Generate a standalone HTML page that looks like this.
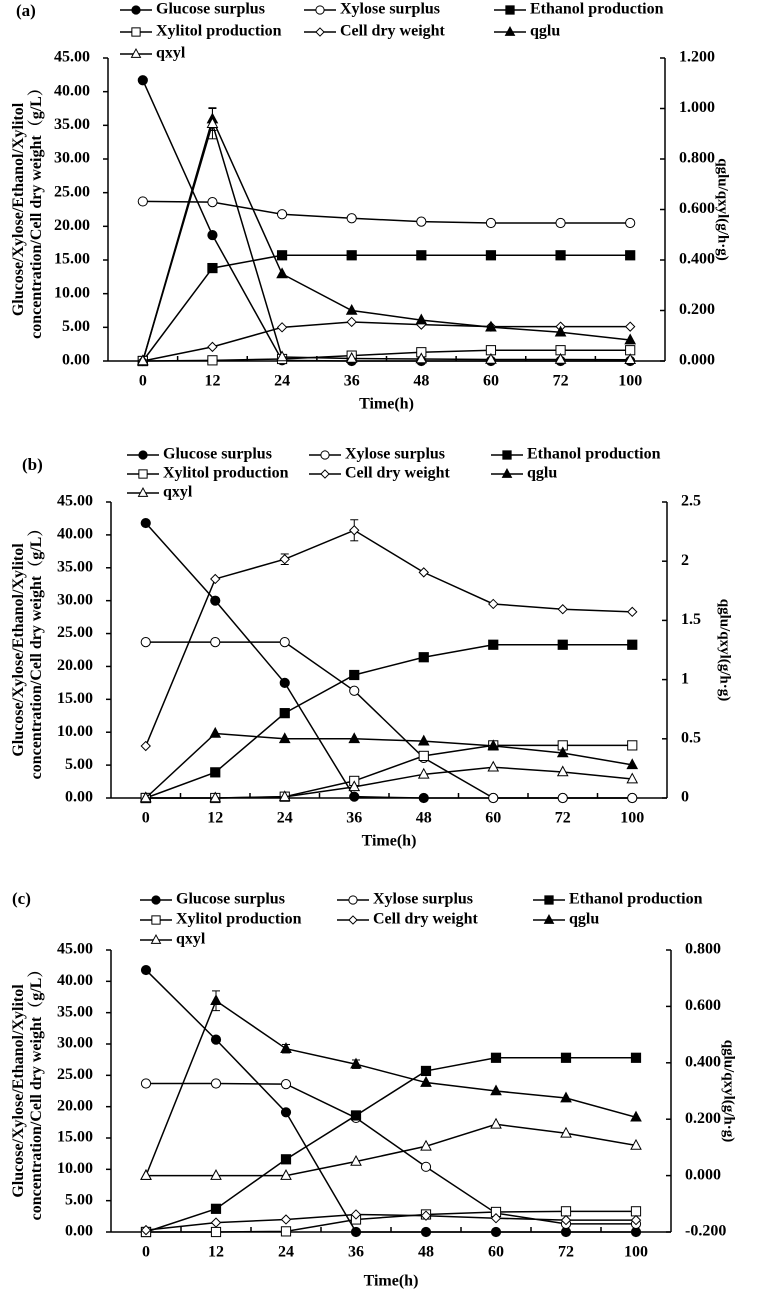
<!DOCTYPE html>
<html><head><meta charset="utf-8"><style>
html,body{margin:0;padding:0;background:#fff;}
svg{display:block;font-family:"Liberation Serif","Noto Serif CJK SC",serif;font-weight:bold;}
</style></head><body>
<svg id="fig" width="760" height="1296" viewBox="0 0 760 1296" xmlns="http://www.w3.org/2000/svg"></svg>
<script>
const categories = ["0","12","24","36","48","60","72","100"];
// Panel (a)
const aGlucose = [41.7,18.7,0.1,0,0,0,0,0];
const aXylose = [23.7,23.6,21.8,21.2,20.7,20.5,20.5,20.5];
const aEthanol = [0,13.8,15.7,15.7,15.7,15.7,15.7,15.7];
const aXylitol = [0,0.1,0.3,0.8,1.3,1.6,1.6,1.6];
const aCdw = [0,2.1,5.0,5.8,5.4,5.1,5.1,5.1];
const aQglu = [0,0.958,0.345,0.2,0.162,0.134,0.114,0.083];
const aQxyl = [0,0.94,0.016,0.01,0.008,0.006,0.006,0.005];
const aLeftTicks = ["0.00","5.00","10.00","15.00","20.00","25.00","30.00","35.00","40.00","45.00"];
const aRightTicks = ["0.000","0.200","0.400","0.600","0.800","1.000","1.200"];
// Panel (b)
const bGlucose = [41.8,30.0,17.5,0.2,0,0,0,0];
const bXylose = [23.7,23.7,23.7,16.3,6.1,0,0,0];
const bEthanol = [0,3.9,12.9,18.7,21.4,23.3,23.3,23.3];
const bXylitol = [0,0,0.2,2.6,6.4,8.0,8.0,8.0];
const bCdw = [7.9,33.3,36.3,40.7,34.3,29.5,28.7,28.3];
const bQglu = [0,0.545,0.5,0.5,0.48,0.44,0.38,0.28];
const bQxyl = [0,0,0.01,0.094,0.2,0.26,0.22,0.16];
const bLeftTicks = aLeftTicks;
const bRightTicks = ["0","0.5","1","1.5","2","2.5"];
// Panel (c)
const cGlucose = [41.8,30.7,19.1,0,0,0,0,0];
const cXylose = [23.7,23.7,23.6,18.2,10.4,3.0,1.3,1.3];
const cEthanol = [0,3.7,11.6,18.6,25.7,27.8,27.8,27.8];
const cXylitol = [0,0,0.1,2.0,2.8,3.2,3.3,3.3];
const cCdw = [0.3,1.5,2.0,2.8,2.6,2.2,1.9,1.9];
const cQglu = [0,0.62,0.45,0.395,0.33,0.30,0.275,0.207];
const cQxyl = [0,0,0,0.05,0.104,0.182,0.15,0.107];
const cLeftTicks = aLeftTicks;
const cRightTicks = ["-0.200","0.000","0.200","0.400","0.600","0.800"];

const NS="http://www.w3.org/2000/svg";
const svg=document.getElementById('fig');
function mk(tag,attrs,parent){const e=document.createElementNS(NS,tag);for(const k in attrs)e.setAttribute(k,attrs[k]);(parent||svg).appendChild(e);return e;}

const seriesMeta=[
 {key:"glucose",label:"Glucose surplus",m:"circle",fill:"#000",axis:"L"},
 {key:"xylose",label:"Xylose surplus",m:"circle",fill:"#fff",axis:"L"},
 {key:"ethanol",label:"Ethanol production",m:"square",fill:"#000",axis:"L"},
 {key:"xylitol",label:"Xylitol production",m:"square",fill:"#fff",axis:"L"},
 {key:"cdw",label:"Cell dry weight",m:"diamond",fill:"#fff",axis:"L"},
 {key:"qglu",label:"qglu",m:"tri",fill:"#000",axis:"R"},
 {key:"qxyl",label:"qxyl",m:"tri",fill:"#fff",axis:"R"}];

function marker(g,type,fill,x,y,s){
  s=s||1;let e;
  if(type==="circle")e=mk('circle',{cx:x,cy:y,r:4.6*s,fill:fill,stroke:"#000","stroke-width":1},g);
  else if(type==="square")e=mk('rect',{x:x-4.6*s,y:y-4.6*s,width:9.2*s,height:9.2*s,fill:fill,stroke:"#000","stroke-width":1},g);
  else if(type==="diamond")e=mk('polygon',{points:`${x},${y-4.5*s} ${x+4.5*s},${y} ${x},${y+4.5*s} ${x-4.5*s},${y}`,fill:fill,stroke:"#000","stroke-width":1},g);
  else e=mk('polygon',{points:`${x},${y-5.5*s} ${x+5*s},${y+3.8*s} ${x-5*s},${y+3.8*s}`,fill:fill,stroke:"#000","stroke-width":1},g);
  return e;
}

function drawPanel(p){
  const g=mk('g',{});
  
  
  const step=(p.right-p.left)/categories.length;
  const xS=i=>p.left+step*(i+0.5);
  const yL=v=>p.bottom-(v-p.lmin)/(p.lmax-p.lmin)*(p.bottom-p.top);
  const yR=v=>p.bottom-(v-p.rmin)/(p.rmax-p.rmin)*(p.bottom-p.top);
  // panel label
  const pl=mk('text',{x:p.labelX,y:p.labelY,"font-size":17,"dominant-baseline":"middle"},g);pl.textContent="("+p.id+")";
  
  
  // legend
  const lg=mk('g',{},g);
  
  
  seriesMeta.forEach((s,i)=>{
    const col=i%3,row=Math.floor(i/3);
    const lx=p.legCols[col],ly=p.legRows[row];
    const eg=mk('g',{},lg);
    
    
    mk('line',{x1:lx,y1:ly,x2:lx+32,y2:ly,stroke:"#000","stroke-width":1.5},eg);
    marker(eg,s.m,s.fill,lx+16,ly,0.9);
    const t=mk('text',{x:lx+36,y:ly,"font-size":16,"dominant-baseline":"middle"},eg);t.textContent=s.label;
  });
  // axes
  const ax=mk('g',{stroke:"#000","stroke-width":1.5,fill:"none"},g);
  
  
  mk('line',{x1:p.left,y1:p.top,x2:p.left,y2:p.bottom},ax);
  mk('line',{x1:p.right,y1:p.top,x2:p.right,y2:p.bottom},ax);
  mk('line',{x1:p.left,y1:p.bottom,x2:p.right,y2:p.bottom},ax);
  for(let i=1;i<categories.length;i++){mk('line',{x1:p.left+step*i,y1:p.bottom,x2:p.left+step*i,y2:p.bottom-5},ax);}
  p.lt.forEach((lab,i)=>{
    const v=p.lmin+i*(p.lmax-p.lmin)/(p.lt.length-1);const y=yL(v);
    mk('line',{x1:p.left-5,y1:y,x2:p.left,y2:y},ax);
    const t=mk('text',{x:p.left-18,y:y,"font-size":16,"text-anchor":"end","dominant-baseline":"middle"},g);t.textContent=lab;
    
    
  });
  p.rt.forEach((lab,i)=>{
    const v=p.rmin+i*(p.rmax-p.rmin)/(p.rt.length-1);const y=yR(v);
    mk('line',{x1:p.right-5,y1:y,x2:p.right,y2:y},ax);
    const t=mk('text',{x:p.right+14,y:y,"font-size":16,"dominant-baseline":"middle"},g);t.textContent=lab;
    
    
  });
  categories.forEach((c,i)=>{
    const t=mk('text',{x:xS(i),y:p.bottom+21,"font-size":16,"text-anchor":"middle","dominant-baseline":"middle"},g);t.textContent=c;
    
    
  });
  const xt=mk('text',{x:(p.left+p.right)/2,y:p.bottom+p.xtOff,"font-size":16,"text-anchor":"middle","dominant-baseline":"middle"},g);xt.textContent="Time(h)";
  
  
  const cy=(p.top+p.bottom)/2;
  const yt=mk('text',{transform:`translate(29,${cy}) rotate(-90)`,"font-size":16,"text-anchor":"middle"},g);
  
  
  const s1=mk('tspan',{x:0,y:-6},yt);s1.textContent="Glucose/Xylose/Ethanol/Xylitol";
  const s2=mk('tspan',{x:0,y:12},yt);s2.textContent="concentration/Cell dry weight（g/L）";
  const rt=mk('text',{transform:`translate(${p.right+57},${cy}) rotate(90)`,"font-size":15,"text-anchor":"middle","dominant-baseline":"middle"},g);rt.textContent="qglu/qxyl(g/h·g)";
  
  
  // series
  seriesMeta.forEach(s=>{
    const vals=p.data[s.key];const yf=s.axis==="L"?yL:yR;
    const sg=mk('g',{},g);
    
    
    const pts=vals.map((v,i)=>xS(i)+","+yf(v)).join(" ");
    mk('polyline',{points:pts,fill:"none",stroke:"#000","stroke-width":1.5},sg);
    (p.err[s.key]||[]).forEach(([i,e])=>{
      const x=xS(i),y1=yf(vals[i]+e),y2=yf(vals[i]-e);
      mk('line',{x1:x,y1:y1,x2:x,y2:y2,stroke:"#000","stroke-width":1},sg);
      mk('line',{x1:x-4,y1:y1,x2:x+4,y2:y1,stroke:"#000","stroke-width":1},sg);
      mk('line',{x1:x-4,y1:y2,x2:x+4,y2:y2,stroke:"#000","stroke-width":1},sg);
    });
    vals.forEach((v,i)=>{
      const m=marker(sg,s.m,s.fill,xS(i),yf(v),1);
      
      
    });
  });
}

drawPanel({id:"a",left:108,right:665,top:58,bottom:361,lmin:0,lmax:45,rmin:0,rmax:1.2,lt:aLeftTicks,rt:aRightTicks,
  labelX:16,labelY:12,legCols:[120,304,494],legRows:[10,32,54],xtOff:44,
  data:{glucose:aGlucose,xylose:aXylose,ethanol:aEthanol,xylitol:aXylitol,cdw:aCdw,qglu:aQglu,qxyl:aQxyl},
  err:{qglu:[[1,0.045]],qxyl:[[1,0.06]]}});
drawPanel({id:"b",left:111,right:667,top:502,bottom:798,lmin:0,lmax:45,rmin:0,rmax:2.5,lt:bLeftTicks,rt:bRightTicks,
  labelX:22,labelY:466,legCols:[127,309,491],legRows:[455,474,493],xtOff:44,
  data:{glucose:bGlucose,xylose:bXylose,ethanol:bEthanol,xylitol:bXylitol,cdw:bCdw,qglu:bQglu,qxyl:bQxyl},
  err:{cdw:[[2,0.8],[3,1.6]]}});
drawPanel({id:"c",left:111,right:671,top:950,bottom:1232,lmin:0,lmax:45,rmin:-0.2,rmax:0.8,lt:cLeftTicks,rt:cRightTicks,
  labelX:12,labelY:900,legCols:[140,337,533],legRows:[900,920,940],xtOff:50,
  data:{glucose:cGlucose,xylose:cXylose,ethanol:cEthanol,xylitol:cXylitol,cdw:cCdw,qglu:cQglu,qxyl:cQxyl},
  err:{qglu:[[1,0.035],[2,0.015],[3,0.015]]}});
</script>
</body></html>
